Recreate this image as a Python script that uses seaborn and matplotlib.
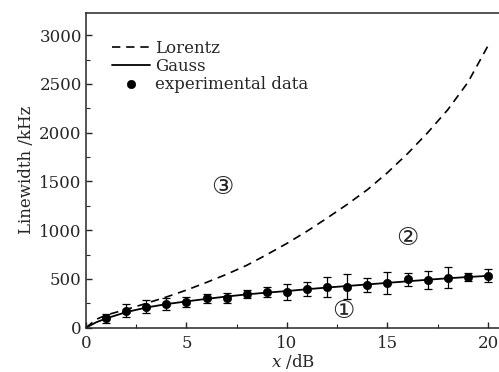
import numpy as np
import pandas as pd
import matplotlib
matplotlib.use("Agg")
import matplotlib.pyplot as plt
import seaborn as sns

# curves
curve_x = [0, 0.5, 1, 2, 3, 4, 5, 6, 7, 8, 9, 10, 11, 12, 13, 14, 15, 16, 17, 18, 19, 20]
lorentz = [0, 85, 130, 187, 250, 315, 386, 465, 548, 640, 750, 865, 990, 1125, 1265, 1415, 1590, 1785, 2000, 2235, 2515, 2890]
gauss = [0, 55, 95, 160, 207, 242, 270, 296, 320, 342, 360, 376, 395, 412, 428, 444, 460, 476, 492, 507, 520, 532]

# experimental data
exp_x = list(range(1, 21))
exp_y = [96, 175, 216, 243, 267, 301, 308, 345, 369, 369, 397, 414, 421, 434, 455, 496, 489, 513, 523, 533]
exp_err = [48, 67, 68, 60, 51, 44, 51, 38, 51, 82, 70, 102, 125, 72, 113, 63, 91, 106, 41, 67]

sns.set_style("ticks")
plt.rcParams['font.family'] = ['DejaVu Serif']
plt.rcParams['mathtext.fontset'] = 'dejavuserif'
plt.rcParams['font.size'] = 12

fig = plt.figure(figsize=(4.99, 3.72), dpi=100)
ax = fig.add_axes([0.1723, 0.119, 0.8297, 0.8468])

df = pd.DataFrame({'x': curve_x, 'Lorentz': lorentz, 'Gauss': gauss})
sns.lineplot(data=df, x='x', y='Lorentz', ax=ax, color='black', lw=1.2,
             linestyle=(0, (5, 3.5)), label='Lorentz')
sns.lineplot(data=df, x='x', y='Gauss', ax=ax, color='black', lw=1.3, label='Gauss')
ax.errorbar(exp_x, exp_y, yerr=exp_err, fmt='none', ecolor='black', elinewidth=0.9,
            capsize=3, capthick=0.9)
sns.scatterplot(x=exp_x, y=exp_y, ax=ax, color='black', s=36, edgecolor='black',
                label='experimental data', zorder=5)

for tx, ty, lab in [(12.8, 171, '①'), (16.0, 922, '②'), (6.8, 1445, '③')]:
    ax.text(tx, ty, lab, ha='center', va='center', fontsize=18, family=['DejaVu Sans'])

ax.set_xlim(0, 20.6)
ax.set_ylim(0, 3230)
ax.set_xticks([0, 5, 10, 15, 20])
ax.set_yticks(range(0, 3001, 500))
ax.set_xticks(np.arange(2.5, 20, 5), minor=True)
ax.set_yticks(range(250, 3001, 500), minor=True)
ax.tick_params(direction='in', length=4, width=1, labelsize=12)
ax.tick_params(axis='y', pad=3)
ax.tick_params(axis='x', pad=5)
ax.tick_params(which='minor', direction='in', length=3, width=0.8)
ax.spines['right'].set_visible(False)
for s in ['left', 'bottom', 'top']:
    ax.spines[s].set_linewidth(1.1)

ax.set_xlabel('$x$ /dB', fontsize=12, labelpad=0)
ax.set_ylabel('Linewidth /kHz', fontsize=12, labelpad=3)

ax.legend(loc='upper left', frameon=False, fontsize=12, handlelength=2.3,
          handletextpad=0.3, labelspacing=0.05, borderaxespad=0.3,
          bbox_to_anchor=(0.035, 0.95))

fig.savefig('out.png', dpi=100)
